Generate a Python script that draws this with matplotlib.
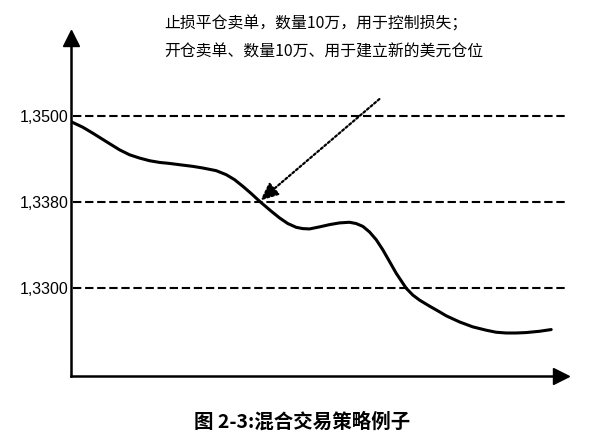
import numpy as np
import matplotlib
matplotlib.use('Agg')
import matplotlib.pyplot as plt

plt.rcParams['font.family'] = ['Noto Sans CJK SC', 'DejaVu Sans']

# price path (time in arbitrary units 0..100)
t = [0.0, 2.41, 4.45, 7.19, 9.91, 11.95, 13.99, 16.04, 18.08, 20.12, 22.17,
     24.88, 26.93, 29.66, 31.71, 33.40, 35.10, 36.81, 38.51, 40.90, 42.59,
     44.29, 46.01, 47.35, 48.72, 50.77, 52.81, 54.85, 56.89, 58.26, 59.61,
     60.98, 62.35, 63.70, 65.07, 66.43, 68.48, 69.83, 71.20, 73.24, 75.28,
     76.65, 79.37, 82.08, 84.82, 86.86, 88.91, 90.95, 92.99, 95.71, 98.10]
price = [1.34928, 1.34850, 1.34767, 1.34650, 1.34535, 1.34466, 1.34420,
         1.34383, 1.34359, 1.34345, 1.34327, 1.34304, 1.34281, 1.34244,
         1.34188, 1.34119, 1.34026, 1.33925, 1.33818, 1.33719, 1.33657,
         1.33604, 1.33569, 1.33557, 1.33554, 1.33573, 1.33594, 1.33610,
         1.33616, 1.33604, 1.33578, 1.33526, 1.33454, 1.33360, 1.33251,
         1.33142, 1.33002, 1.32939, 1.32892, 1.32836, 1.32783, 1.32746,
         1.32689, 1.32643, 1.32612, 1.32593, 1.32586, 1.32586, 1.32590,
         1.32602, 1.32618]

levels = [1.3500, 1.3380, 1.3300]
level_labels = ['1,3500', '1,3380', '1,3300']

# dotted pointer: from upper right down to the sell point at 1.3380
arrow_start = (63.0, 1.35243)
arrow_end = (38.7, 1.33828)

note_lines = ['止损平仓卖单，数量10万，用于控制损失；',
              '开仓卖单、数量10万、用于建立新的美元仓位']
caption = '图 2-3:混合交易策略例子'


# the book draws the three levels evenly spaced, so use a piecewise scale
def forward(p):
    p = np.asarray(p, dtype=float)
    return np.where(p <= 1.338, (p - 1.33) / 0.008, 1 + (p - 1.338) / 0.012)


def inverse(v):
    v = np.asarray(v, dtype=float)
    return np.where(v <= 1, 1.33 + v * 0.008, 1.338 + (v - 1) * 0.012)


fig = plt.figure(figsize=(6.01, 4.48), dpi=100)
ax = fig.add_axes([71 / 601, 72 / 448, 489.5 / 601, 337.5 / 448])
ax.set_yscale('function', functions=(forward, inverse))
ax.set_xlim(0, 100)
ax.set_ylim(1.32186, 1.36088)

for lv in levels:
    ax.axhline(lv, xmin=0.004, xmax=1.013, color='black', lw=1.5,
               linestyle=(0, (4, 1.8)), clip_on=False, zorder=1)

ax.plot(t, price, color='black', lw=2.2, solid_capstyle='round',
        solid_joinstyle='round', zorder=3)

ax.annotate('', xy=arrow_end, xytext=arrow_start,
            arrowprops=dict(arrowstyle='-|>,head_length=0.9,head_width=0.4',
                            linestyle=(0, (1, 1.1)), lw=1.6, color='black',
                            shrinkA=0, shrinkB=0, mutation_scale=12),
            zorder=4)

# axes with arrow heads
for side in ['top', 'right']:
    ax.spines[side].set_visible(False)
for side in ['left', 'bottom']:
    ax.spines[side].set_linewidth(1.8)
ax.plot(1, 0, '>k', ms=11, transform=ax.transAxes, clip_on=False)
ax.plot(0, 1, '^k', ms=11, transform=ax.transAxes, clip_on=False)

ax.set_xticks([])
ax.set_yticks(levels)
ax.set_yticks([], minor=True)
ax.set_yticklabels(level_labels, family='Liberation Sans', fontsize=11.5)
ax.tick_params(axis='y', length=0, pad=2)

fig.text(164 / 601, 1 - 24 / 448, note_lines[0], ha='left', va='center', fontsize=11.4)
fig.text(164 / 601, 1 - 52 / 448, note_lines[1], ha='left', va='center', fontsize=11.4)
fig.text(302 / 601, 1 - 422 / 448, caption, ha='center', va='center',
         fontsize=14, fontweight='bold')

fig.savefig('out.png', dpi=100)
